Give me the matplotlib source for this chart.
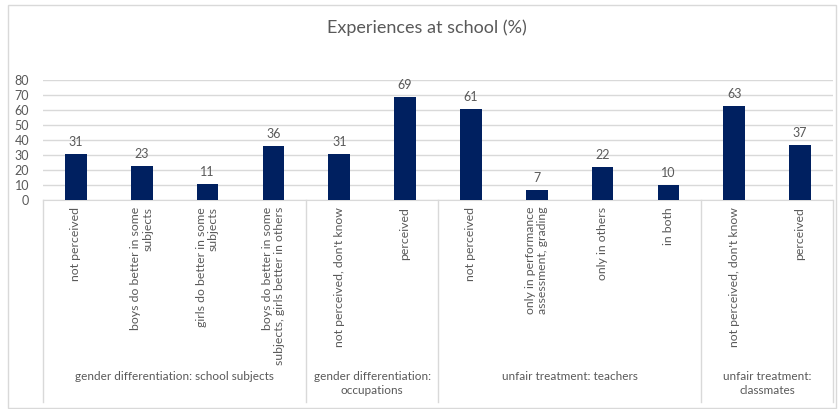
import matplotlib.pyplot as plt
from matplotlib.patches import Rectangle

plt.rcParams['font.family'] = ['Lato', 'DejaVu Sans']

# survey categories, grouped by topic
categories = [
    "not perceived",
    "boys do better in some\nsubjects",
    "girls do better in some\nsubjects",
    "boys do better in some\nsubjects, girls better in others",
    "not perceived, don't know",
    "perceived",
    "not perceived",
    "only in performance\nassessment, grading",
    "only in others",
    "in both",
    "not perceived, don't know",
    "perceived",
]
values = [31, 23, 11, 36, 31, 69, 61, 7, 22, 10, 63, 37]
groups = [
    "gender differentiation: school subjects",
    "gender differentiation:\noccupations",
    "unfair treatment: teachers",
    "unfair treatment:\nclassmates",
]
group_sizes = [4, 2, 4, 2]
yticks = [0, 10, 20, 30, 40, 50, 60, 70, 80]

W, H = 838, 409
bar_color = '#002060'
text_gray = '#595959'
line_gray = '#D9D9D9'

fig = plt.figure(figsize=(W / 100, H / 100), dpi=100)

# outer chart border
fig.patches.append(Rectangle((8 / W, 1 - 407.5 / H), 828 / W, 403 / H,
                             transform=fig.transFigure, fill=False,
                             edgecolor=line_gray, lw=1))

fig.text(427 / W, 1 - 28 / H, "Experiences at school (%)", ha='center', va='center',
         fontsize=13, color=text_gray)

left, right, top, bottom = 43, 833, 80, 200
ax = fig.add_axes([left / W, 1 - bottom / H, (right - left) / W, (bottom - top) / H])

x = list(range(len(values)))
bars = ax.bar(x, values, width=0.33, color=bar_color, zorder=3)
for xi, v in zip(x, values):
    ax.annotate(str(v), (xi, v), xytext=(0, 4), textcoords='offset points',
                ha='center', va='bottom', fontsize=9, color=text_gray)

ax.set_xlim(-0.5, len(values) - 0.5)
ax.set_ylim(0, 80)
ax.set_yticks(yticks)
ax.set_yticklabels([str(t) for t in yticks], fontsize=9, color=text_gray)
ax.tick_params(axis='y', length=0, pad=10)
ax.set_xticks([])
ax.grid(axis='y', color=line_gray, lw=1, zorder=0)
for s in ['top', 'right', 'left']:
    ax.spines[s].set_visible(False)
ax.spines['bottom'].set_color(line_gray)

# category labels under the bars
tr = ax.get_xaxis_transform()
px = 1 / (bottom - top)
for xi, lab in zip(x, categories):
    ax.text(xi, -7 * px, lab, transform=tr, rotation=90, ha='center', va='top',
            multialignment='right', fontsize=8.8, color=text_gray, linespacing=1.1)

# group separators and group labels
edge = -0.5
seps = [edge]
for g, n in zip(groups, group_sizes):
    mid = edge + n / 2
    ax.text(mid, -171 * px, g, transform=tr, ha='center', va='top',
            fontsize=8.5, color=text_gray, linespacing=1.3)
    edge += n
    seps.append(edge)
for s in seps:
    ax.plot([s, s], [0, -202 * px], transform=tr, color=line_gray, lw=1, clip_on=False)

fig.savefig('out.png', dpi=100)
